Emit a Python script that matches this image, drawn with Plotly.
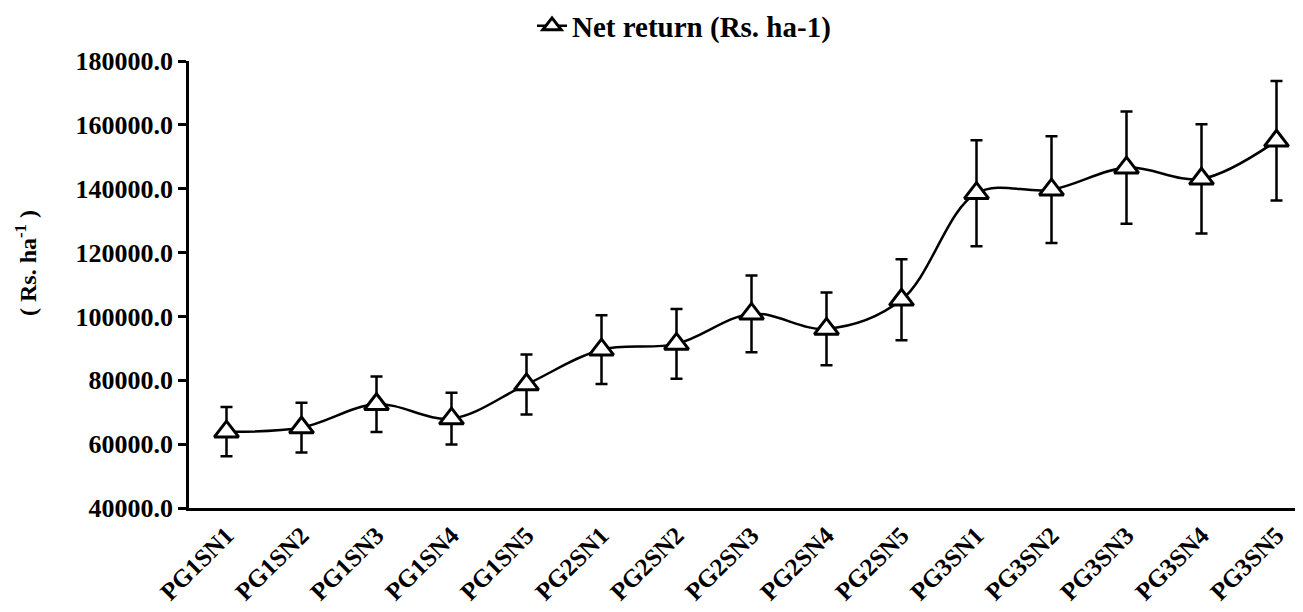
import plotly.graph_objects as go

# Treatments (x categories)
treatments = [
    "PG1SN1", "PG1SN2", "PG1SN3", "PG1SN4", "PG1SN5",
    "PG2SN1", "PG2SN2", "PG2SN3", "PG2SN4", "PG2SN5",
    "PG3SN1", "PG3SN2", "PG3SN3", "PG3SN4", "PG3SN5",
]

# Net return (Rs. ha-1)
net_return = [
    63900, 65200, 72500, 68000, 78700,
    89600, 91400, 100800, 96100, 105200,
    138600, 139700, 146600, 143100, 155000,
]

# symmetric error bar half-lengths
net_return_err = [
    7700, 7800, 8700, 8100, 9400,
    10800, 10900, 12000, 11400, 12700,
    16600, 16700, 17600, 17100, 18700,
]

y_ticks = [40000, 60000, 80000, 100000, 120000, 140000, 160000, 180000]

FONT = "Liberation Serif, Times New Roman, serif"
INK = "black"

# page body has an 8px margin, so the figure is drawn 8px in and 8px down
PAD = 8
W, H = 1303 - PAD, 612 - PAD
L = 189 - PAD          # y axis line
T = 61 - PAD           # 180000 tick
B = H - (508 - PAD)    # x axis line
plot_w = W - L
plot_h = H - T - B


def px_x(x):
    """screen x (reference pixels) -> paper x"""
    return (x - PAD - L) / plot_w


def px_y(y):
    """screen y (reference pixels) -> paper y"""
    return (H - B - (y - PAD)) / plot_h


fig = go.Figure()
fig.add_trace(
    go.Scatter(
        x=treatments,
        y=net_return,
        name="<b>Net return (Rs. ha-1)</b>",
        mode="lines+markers",
        line=dict(color=INK, width=2.5, shape="spline", smoothing=1.0),
        marker=dict(
            symbol="triangle-up",
            size=21,
            color="white",
            line=dict(color=INK, width=3),
        ),
        error_y=dict(
            type="data",
            array=net_return_err,
            visible=True,
            color=INK,
            thickness=2.5,
            width=6,
        ),
    )
)

fig.update_layout(
    width=W,
    height=H,
    margin=dict(l=L, r=0, t=T, b=B, autoexpand=False),
    paper_bgcolor="white",
    plot_bgcolor="white",
    font=dict(family=FONT, color=INK, size=24),
    showlegend=True,
    legend=dict(
        orientation="h",
        x=px_x(532),
        xanchor="left",
        y=px_y(26),
        yanchor="middle",
        font=dict(family=FONT, size=29, color=INK),
        bgcolor="rgba(0,0,0,0)",
    ),
    xaxis=dict(
        type="category",
        range=[-0.5, -0.5 + plot_w / 75.0],
        showline=True,
        linecolor=INK,
        linewidth=2.5,
        showgrid=False,
        ticks="",
        tickangle=-45,
        tickvals=treatments,
        ticktext=[f"<b>{t}</b>" for t in treatments],
        tickfont=dict(family=FONT, size=25, color=INK),
        zeroline=False,
        automargin=False,
    ),
    yaxis=dict(
        range=[40000, 180000],
        tickvals=y_ticks,
        ticktext=[f"<b>{v:.1f}</b>" for v in y_ticks],
        showline=True,
        linecolor=INK,
        linewidth=2.5,
        showgrid=False,
        ticks="outside",
        ticklen=8,
        tickwidth=2.5,
        tickcolor=INK,
        tickfont=dict(family=FONT, size=26, color=INK),
        zeroline=False,
        automargin=False,
    ),
)

# y axis title placed by hand, like the source
fig.add_annotation(
    text="<b>( Rs. ha<sup>-1</sup> )</b>",
    xref="paper",
    yref="paper",
    x=px_x(26),
    y=px_y(263),
    xanchor="center",
    yanchor="middle",
    textangle=-90,
    showarrow=False,
    font=dict(family=FONT, size=24, color=INK),
)

fig.write_html("out.html")
